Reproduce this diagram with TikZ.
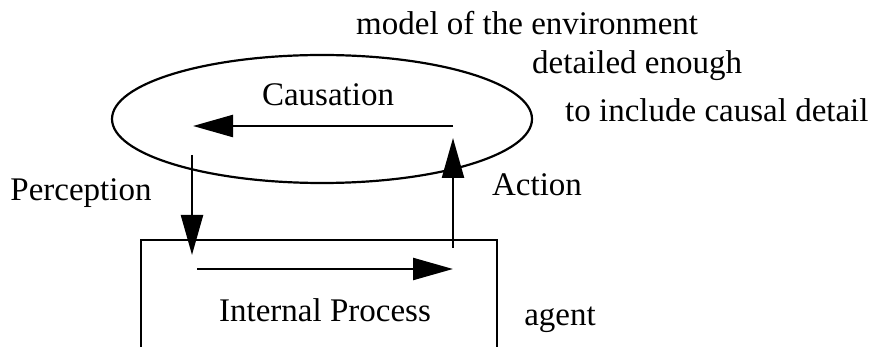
\documentclass[tikz,border=0pt]{standalone}
\usepackage{fontspec}
\setmainfont{Liberation Serif}
\usetikzlibrary{arrows.meta,shapes.geometric}
\begin{document}
\begin{tikzpicture}[x=1pt,y=-1pt,
  lbl/.style={font=\fontsize{33}{39}\selectfont, inner sep=0pt},
  flow/.style={line width=2.3pt, -{Triangle[length=40pt,width=22pt]}}]
\useasboundingbox (0,0) rectangle (875,347);
\begin{scope}
\clip (0,0) rectangle (875,347);
\draw[line width=1.2pt] (141,240) rectangle (497,400);
\end{scope}
\node[draw, line width=2.2pt, ellipse, minimum width=420pt, minimum height=128pt, inner sep=0pt] (env) at (322,119) {};
\node[lbl] (caus) at (328,95) {Causation};
\node[lbl] (internal) at (325,310) {Internal Process};
\node[lbl] (agent) at (560,320) {agent};
\node[lbl] (perc) at (81,193) {Perception};
\node[lbl] (act) at (537,185) {Action};
\node[lbl, anchor=west] (model) at (356,23) {model of the environment};
\node[lbl, anchor=west] (det) at (532,66) {detailed enough};
\node[lbl, anchor=west] (incl) at (565,110) {to include causal detail};
\coordinate (cS) at (453,126);
\coordinate (cE) at (193,126);
\coordinate (pS) at (192,155);
\coordinate (pE) at (192,255);
\coordinate (aS) at (453,248);
\coordinate (aE) at (453,138);
\coordinate (iS) at (197,269);
\coordinate (iE) at (453,269);
\draw[flow] (cS) -- (cE);
\draw[flow] (pS) -- (pE);
\draw[flow] (aS) -- (aE);
\draw[flow] (iS) -- (iE);
\end{tikzpicture}
\end{document}
